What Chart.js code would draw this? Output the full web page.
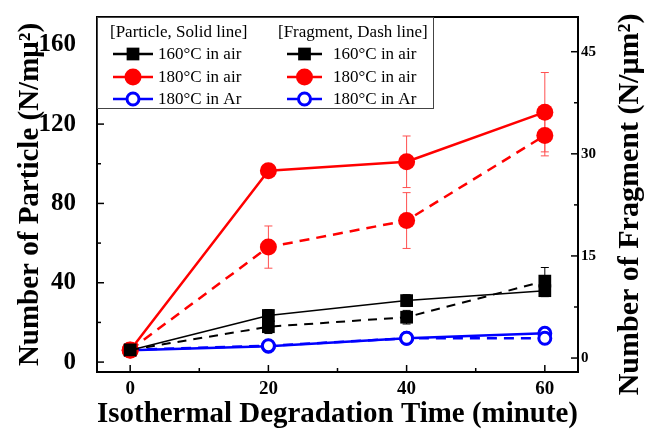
<!DOCTYPE html>
<html>
<head>
<meta charset="utf-8">
<script src="https://cdn.jsdelivr.net/npm/chart.js@4.4.1/dist/chart.umd.min.js"></script>
<style>
  html, body { margin: 0; padding: 0; background: #fff; }
</style>
</head>
<body>
<canvas id="chart" width="651" height="433"></canvas>
<script>
// Degradation time (minute)
const times = [0, 20, 40, 60];

// Particle density, left axis (solid lines)
const particle160Air = [6, 23.5, 31, 36];
const particle180Air = [6, 96.5, 101, 126];
const particle180Ar = [6, 8, 12, 14.5];
const particle160AirErr = [0.5, 3, 3, 3];
const particle180AirErr = [0.5, 2, 13, 20];
const particle180ArErr = [0.5, 1, 1, 1];

// Fragment density, right axis (dashed lines)
const fragment160Air = [1.2, 4.6, 6.0, 11.3];
const fragment180Air = [1.2, 16.3, 20.2, 32.7];
const fragment180Ar = [1.2, 1.8, 2.9, 2.9];
const fragment160AirErr = [0.3, 1, 1, 2];
const fragment180AirErr = [0.3, 3.1, 4.1, 3];
const fragment180ArErr = [0.2, 0.3, 0.3, 0.3];

// Tick labels
const xTicks = [0, 20, 40, 60];
const xMinor = [10, 30, 50];
const leftTicks = [0, 40, 80, 120, 160];
const leftMinor = [20, 60, 100, 140];
const rightTicks = [0, 15, 30, 45];
const rightMinor = [7.5, 22.5, 37.5];

const SERIF = '"Liberation Serif", "Times New Roman", serif';

const pts = (arr) => times.map((t, i) => ({ x: t, y: arr[i] }));

function series(label, values, err, opts) {
    return Object.assign({
        label,
        data: pts(values),
        err,
        fill: false,
        tension: 0,
    }, opts);
}

const black = "#000000", red = "#ff0000", blue = "#0000ff";

const datasets = [
    // dashed (fragment) first so solid lines sit on top
    series("160°C in air", fragment160Air, fragment160AirErr, {
        yAxisID: "y1", group: 1, borderColor: black, backgroundColor: black,
        borderWidth: 2, borderDash: [9, 7], pointStyle: "rect", pointRadius: 9,
        pointBorderWidth: 0, errColor: black,
    }),
    series("180°C in air", fragment180Air, fragment180AirErr, {
        yAxisID: "y1", group: 1, borderColor: red, backgroundColor: red,
        borderWidth: 2.5, borderDash: [10, 7], pointStyle: "circle", pointRadius: 8.5,
        pointBorderWidth: 0, errColor: "#ff5050",
    }),
    series("180°C in Ar", fragment180Ar, fragment180ArErr, {
        yAxisID: "y1", group: 1, borderColor: blue, backgroundColor: "#ffffff",
        borderWidth: 2.5, borderDash: [10, 7], pointStyle: "circle", pointRadius: 6,
        pointBorderWidth: 3, pointBorderColor: blue, errColor: blue,
    }),
    series("160°C in air", particle160Air, particle160AirErr, {
        yAxisID: "y", group: 0, borderColor: black, backgroundColor: black,
        borderWidth: 1.5, pointStyle: "rect", pointRadius: 9,
        pointBorderWidth: 0, errColor: black,
    }),
    series("180°C in air", particle180Air, particle180AirErr, {
        yAxisID: "y", group: 0, borderColor: red, backgroundColor: red,
        borderWidth: 2.5, pointStyle: "circle", pointRadius: 8.5,
        pointBorderWidth: 0, errColor: "#ff5050",
    }),
    series("180°C in Ar", particle180Ar, particle180ArErr, {
        yAxisID: "y", group: 0, borderColor: blue, backgroundColor: "#ffffff",
        borderWidth: 2.5, pointStyle: "circle", pointRadius: 6,
        pointBorderWidth: 3, pointBorderColor: blue, errColor: blue,
    }),
];

// error bars, drawn under the lines and markers
const errorBars = {
    id: "errorBars",
    beforeDatasetsDraw(chart) {
        const ctx = chart.ctx;
        const xs = chart.scales.x;
        ctx.save();
        ctx.lineWidth = 1;
        chart.data.datasets.forEach((ds) => {
            const ys = chart.scales[ds.yAxisID];
            ctx.strokeStyle = ds.errColor;
            ds.data.forEach((p, i) => {
                const e = ds.err[i];
                const px = xs.getPixelForValue(p.x);
                const top = ys.getPixelForValue(p.y + e);
                const bot = ys.getPixelForValue(p.y - e);
                ctx.beginPath();
                ctx.moveTo(px, top); ctx.lineTo(px, bot);
                ctx.moveTo(px - 4, top); ctx.lineTo(px + 4, top);
                ctx.moveTo(px - 4, bot); ctx.lineTo(px + 4, bot);
                ctx.stroke();
            });
        });
        ctx.restore();
    },
};

// frame, inward ticks, right title and the two-column legend
const decorations = {
    id: "decorations",
    afterDraw(chart) {
        const ctx = chart.ctx;
        const a = chart.chartArea;
        const { x, y, y1 } = chart.scales;
        ctx.save();

        // inward tick marks
        ctx.strokeStyle = "#000";
        ctx.lineWidth = 1.5;
        const tick = (x0, y0, x1, y1_) => {
            ctx.beginPath(); ctx.moveTo(x0, y0); ctx.lineTo(x1, y1_); ctx.stroke();
        };
        xTicks.forEach((v) => { const p = x.getPixelForValue(v); tick(p, a.bottom, p, a.bottom - 7); });
        xMinor.forEach((v) => { const p = x.getPixelForValue(v); tick(p, a.bottom, p, a.bottom - 4); });
        leftTicks.forEach((v) => { const p = y.getPixelForValue(v); tick(a.left, p, a.left + 7, p); });
        leftMinor.forEach((v) => { const p = y.getPixelForValue(v); tick(a.left, p, a.left + 4, p); });
        rightTicks.forEach((v) => { const p = y1.getPixelForValue(v); tick(a.right, p, a.right - 7, p); });
        rightMinor.forEach((v) => { const p = y1.getPixelForValue(v); tick(a.right, p, a.right - 4, p); });

        // frame
        ctx.lineWidth = 2;
        ctx.strokeRect(a.left, a.top, a.right - a.left, a.bottom - a.top);

        // right axis title, reading bottom to top
        ctx.save();
        ctx.translate(630, (a.top + a.bottom) / 2 + 10);
        ctx.rotate(-Math.PI / 2);
        ctx.font = `bold 30px ${SERIF}`;
        ctx.fillStyle = "#000";
        ctx.textAlign = "center";
        ctx.textBaseline = "middle";
        ctx.fillText("Number of Fragment (N/μm²)", 0, 0);
        ctx.restore();

        // legend box
        const boxR = 433, boxB = 108;
        ctx.fillStyle = "#fff";
        ctx.fillRect(a.left + 1, a.top + 1, boxR - a.left - 1, boxB - a.top - 1);
        ctx.lineWidth = 1;
        ctx.strokeStyle = "#444";
        ctx.strokeRect(a.left + 0.5, a.top + 0.5, boxR - a.left, boxB - a.top);

        const cols = [
            { title: "[Particle, Solid line]", titleX: 110, x0: 113, x1: 153, textX: 158, group: 0 },
            { title: "[Fragment, Dash line]", titleX: 278, x0: 287, x1: 322, textX: 333, group: 1 },
        ];
        const rowY = [54, 77, 99];
        ctx.font = `17px ${SERIF}`;
        ctx.textBaseline = "middle";
        ctx.textAlign = "left";
        cols.forEach((c) => {
            ctx.fillStyle = "#000";
            ctx.fillText(c.title, c.titleX, 33);
            const items = chart.data.datasets.filter((d) => d.group === c.group);
            items.forEach((d, i) => {
                const ry = rowY[i];
                ctx.strokeStyle = d.borderColor;
                ctx.lineWidth = 2.5;
                ctx.setLineDash([]);
                ctx.beginPath(); ctx.moveTo(c.x0, ry); ctx.lineTo(c.x1, ry); ctx.stroke();
                ctx.fillStyle = d.backgroundColor;
                ctx.strokeStyle = d.pointBorderColor || d.borderColor;
                ctx.lineWidth = d.pointBorderWidth;
                Chart.helpers.drawPoint(ctx, {
                    pointStyle: d.pointStyle, radius: d.pointRadius,
                    rotation: 0, borderWidth: d.pointBorderWidth,
                }, (c.x0 + c.x1) / 2, ry);
                ctx.fillStyle = "#000";
                ctx.fillText(d.label, c.textX, ry + 1);
            });
        });
        ctx.restore();
    },
};

// fixed axis boxes so the plot area lands at 97..578 x 17..372
function fixBox(size) {
    return (s) => {
        if (s.isHorizontal()) s.height = size; else s.width = size;
        s.paddingTop = 0; s.paddingBottom = 0;
        s.paddingLeft = 0; s.paddingRight = 0;
    };
}

new Chart(document.getElementById("chart"), {
    type: "line",
    data: { datasets },
    options: {
        responsive: false,
        animation: false,
        layout: { padding: { top: 17, left: 0, right: 0, bottom: 0 } },
        plugins: { legend: { display: false }, tooltip: { enabled: false } },
        elements: { line: { borderJoinStyle: "round" } },
        scales: {
            x: {
                type: "linear",
                min: -4.8, max: 64.8,
                afterBuildTicks: (s) => { s.ticks = xTicks.map((v) => ({ value: v })); },
                afterFit: fixBox(61),
                grid: { display: false, drawTicks: false },
                border: { display: false },
                ticks: { color: "#000", padding: 6, font: { family: SERIF, size: 19, weight: "bold" } },
                title: {
                    display: true, text: "Isothermal Degradation Time (minute)", color: "#000",
                    padding: { top: 0, bottom: 1 },
                    font: { family: SERIF, size: 29, weight: "bold" },
                },
            },
            y: {
                position: "left",
                min: -5, max: 174,
                afterBuildTicks: (s) => { s.ticks = leftTicks.map((v) => ({ value: v })); },
                afterFit: fixBox(97),
                grid: { display: false, drawTicks: false },
                border: { display: false },
                ticks: { color: "#000", padding: 21, font: { family: SERIF, size: 25, weight: "bold" } },
                title: {
                    display: true, text: "Number of Particle (N/mμ²)", color: "#000",
                    padding: { top: 13, bottom: 0 },
                    font: { family: SERIF, size: 29, weight: "bold" },
                },
            },
            y1: {
                position: "right",
                min: -2.05, max: 50.1,
                afterBuildTicks: (s) => { s.ticks = rightTicks.map((v) => ({ value: v })); },
                afterFit: fixBox(73),
                grid: { display: false, drawTicks: false },
                border: { display: false },
                ticks: { color: "#000", padding: 3, font: { family: SERIF, size: 15, weight: "bold" } },
            },
        },
    },
    plugins: [errorBars, decorations],
});
</script>
</body>
</html>
